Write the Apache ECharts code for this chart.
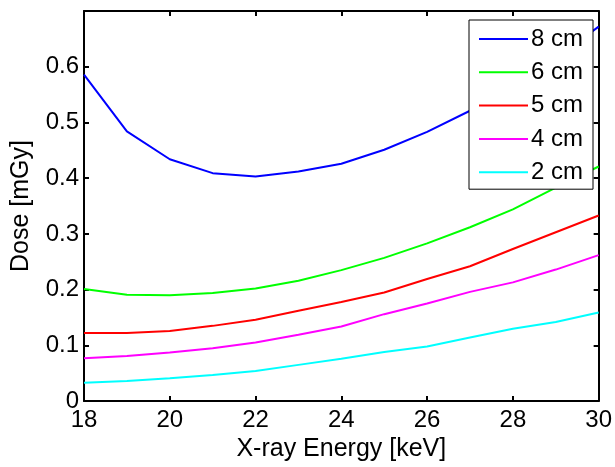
<!DOCTYPE html>
<html>
<head>
<meta charset="utf-8">
<script src="https://cdn.jsdelivr.net/npm/echarts@6/dist/echarts.min.js"></script>
<style>
html,body{margin:0;padding:0;background:#fff;}
#chart{width:615px;height:467px;}
</style>
</head>
<body>
<div id="chart"></div>
<script>
var energies = [18, 19, 20, 21, 22, 23, 24, 25, 26, 27, 28, 29, 30];
var seriesNames = ['8 cm', '6 cm', '5 cm', '4 cm', '2 cm'];
var dose8cm = [0.586, 0.484, 0.434, 0.409, 0.403, 0.412, 0.426, 0.451, 0.483, 0.521, 0.565, 0.615, 0.672];
var dose6cm = [0.201, 0.191, 0.190, 0.194, 0.202, 0.216, 0.235, 0.257, 0.283, 0.312, 0.344, 0.383, 0.421];
var dose5cm = [0.122, 0.122, 0.126, 0.135, 0.146, 0.162, 0.178, 0.195, 0.219, 0.242, 0.273, 0.303, 0.333];
var dose4cm = [0.077, 0.081, 0.087, 0.095, 0.105, 0.119, 0.134, 0.156, 0.175, 0.196, 0.213, 0.236, 0.262];
var dose2cm = [0.033, 0.036, 0.041, 0.047, 0.054, 0.065, 0.076, 0.088, 0.098, 0.114, 0.130, 0.142, 0.159];
var yTicks = [0, 0.1, 0.2, 0.3, 0.4, 0.5, 0.6];
var xTicks = [18, 20, 22, 24, 26, 28, 30];

var colors = ['#0000ff', '#00ff00', '#ff0000', '#ff00ff', '#00ffff'];
var allDose = [dose8cm, dose6cm, dose5cm, dose4cm, dose2cm];
var font = 'Liberation Sans, Arial, sans-serif';

function pairs(vals) {
  return energies.map(function (e, i) { return [e, vals[i]]; });
}

var series = seriesNames.map(function (n, i) {
  return {
    name: n,
    type: 'line',
    data: pairs(allDose[i]),
    symbol: 'none',
    showSymbol: false,
    smooth: false,
    lineStyle: { color: colors[i], width: 2 },
    itemStyle: { color: colors[i] },
    animation: false,
    xAxisIndex: 0,
    yAxisIndex: 0
  };
});

var chart = echarts.init(document.getElementById('chart'), null, { renderer: 'canvas' });
chart.setOption({
  backgroundColor: '#ffffff',
  animation: false,
  grid: { left: 84, right: 14, top: 11, bottom: 60.5, containLabel: false },
  legend: {
    orient: 'vertical',
    left: 469,
    top: 20,
    data: seriesNames,
    backgroundColor: '#ffffff',
    borderColor: '#000000',
    borderWidth: 1,
    borderRadius: 0,
    padding: [7, 10, 5, 9],
    itemWidth: 49,
    itemHeight: 14,
    itemGap: 9.3,
    itemStyle: { opacity: 0 },
    lineStyle: { width: 2 },
    textStyle: { fontFamily: font, fontSize: 24, color: '#000', lineHeight: 24, padding: [0, 0, 0, -2] }
  },
  xAxis: [{
    type: 'value', min: 18, max: 30, interval: 2, position: 'bottom',
    name: 'X-ray Energy [keV]', nameLocation: 'middle', nameGap: 34,
    nameTextStyle: { fontFamily: font, fontSize: 25, color: '#000' },
    axisLine: { show: true, onZero: false, lineStyle: { color: '#000', width: 2 } },
    axisTick: { show: true, inside: true, length: 5, lineStyle: { color: '#000', width: 2 } },
    axisLabel: { fontFamily: font, fontSize: 24, color: '#000', margin: 7,
      formatter: function (v) { return xTicks.indexOf(v) >= 0 ? String(v) : ''; } },
    splitLine: { show: false }
  }, {
    type: 'value', min: 18, max: 30, interval: 2, position: 'top',
    axisLine: { show: true, onZero: false, lineStyle: { color: '#000', width: 2 } },
    axisTick: { show: true, inside: true, length: 5, lineStyle: { color: '#000', width: 2 } },
    axisLabel: { show: false },
    splitLine: { show: false }
  }],
  yAxis: [{
    type: 'value', min: 0, max: 0.7, interval: 0.1, position: 'left',
    name: 'Dose [mGy]', nameLocation: 'middle', nameGap: 50,
    nameTextStyle: { fontFamily: font, fontSize: 25, color: '#000' },
    axisLine: { show: true, onZero: false, lineStyle: { color: '#000', width: 2 } },
    axisTick: { show: true, inside: true, length: 5, lineStyle: { color: '#000', width: 2 } },
    axisLabel: { fontFamily: font, fontSize: 24, color: '#000', margin: 5,
      formatter: function (v) {
        for (var i = 0; i < yTicks.length; i++) {
          if (Math.abs(yTicks[i] - v) < 1e-9) return String(yTicks[i]);
        }
        return '';
      } },
    splitLine: { show: false }
  }, {
    type: 'value', min: 0, max: 0.7, interval: 0.1, position: 'right',
    axisLine: { show: true, onZero: false, lineStyle: { color: '#000', width: 2 } },
    axisTick: { show: true, inside: true, length: 5, lineStyle: { color: '#000', width: 2 } },
    axisLabel: { show: false },
    splitLine: { show: false }
  }],
  series: series
});
</script>
</body>
</html>
